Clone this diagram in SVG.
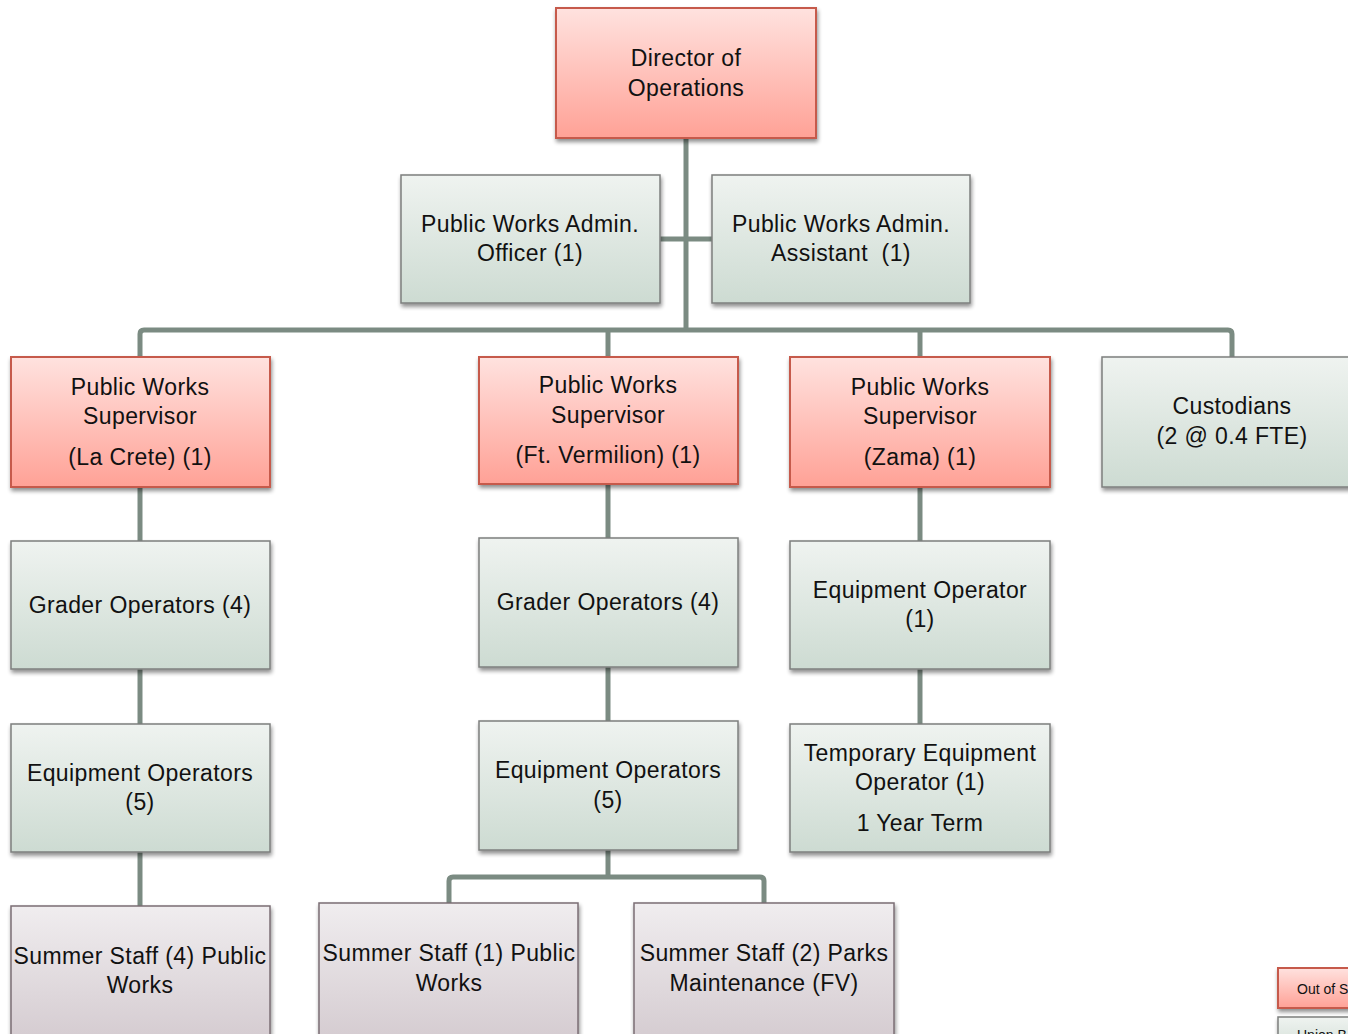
<svg xmlns="http://www.w3.org/2000/svg" width="1348" height="1034" viewBox="0 0 1348 1034">
<defs>
<linearGradient id="gRed" x1="0" y1="0" x2="0" y2="1"><stop offset="0" stop-color="#ffe2df"/><stop offset="1" stop-color="#ffa196"/></linearGradient>
<linearGradient id="gGreen" x1="0" y1="0" x2="0" y2="1"><stop offset="0" stop-color="#eff3f0"/><stop offset="1" stop-color="#cddbd2"/></linearGradient>
<linearGradient id="gMauve" x1="0" y1="0" x2="0" y2="1"><stop offset="0" stop-color="#f0edef"/><stop offset="1" stop-color="#d5ccd1"/></linearGradient>
<filter id="sh" x="-10%" y="-10%" width="125%" height="130%"><feGaussianBlur in="SourceAlpha" stdDeviation="2"/><feOffset dx="1" dy="3"/><feComponentTransfer><feFuncA type="linear" slope="0.45"/></feComponentTransfer><feMerge><feMergeNode/><feMergeNode in="SourceGraphic"/></feMerge></filter>
</defs>
<style>
.red{fill:url(#gRed);stroke:#c65a4c;stroke-width:2;filter:url(#sh)}
.grn{fill:url(#gGreen);stroke:#7d7f7e;stroke-width:1.5;filter:url(#sh)}
.mau{fill:url(#gMauve);stroke:#7b6e74;stroke-width:1.5;filter:url(#sh)}
.t{font-family:"Liberation Sans",Arial,sans-serif;font-size:23px;letter-spacing:0.4px;fill:#111;text-anchor:middle}
.lg{font-family:"Liberation Sans",Arial,sans-serif;font-size:14px;fill:#111}
.c{fill:none;stroke:#7b8b82;stroke-width:5;stroke-linejoin:round}
</style>
<rect width="1348" height="1034" fill="#fff"/>
<g id="connectors">
<path class="c" d="M686 138V330"/>
<path class="c" d="M660 239H712"/>
<path class="c" d="M140 357V334Q140 330 144 330H1228Q1232 330 1232 334V357"/>
<path class="c" d="M608 330V357"/>
<path class="c" d="M920 330V357"/>
<path class="c" d="M140 487V541"/>
<path class="c" d="M140 669V724"/>
<path class="c" d="M140 852V906"/>
<path class="c" d="M608 484V538"/>
<path class="c" d="M608 667V721"/>
<path class="c" d="M608 850V877"/>
<path class="c" d="M449 903V881Q449 877 453 877H760Q764 877 764 881V903"/>
<path class="c" d="M920 487V541"/>
<path class="c" d="M920 669V724"/>
</g>
<g id="director"><rect class="red" x="556" y="8" width="260" height="130"/><text class="t" x="686" y="66">Director of</text><text class="t" x="686" y="96">Operations</text></g>
<g id="admin-officer"><rect class="grn" x="401" y="175" width="259" height="128"/><text class="t" x="530" y="232">Public Works Admin.</text><text class="t" x="530" y="261">Officer (1)</text></g>
<g id="admin-assistant"><rect class="grn" x="712" y="175" width="258" height="128"/><text class="t" x="841" y="232">Public Works Admin.</text><text class="t" x="841" y="261" xml:space="preserve">Assistant  (1)</text></g>
<g id="sup-lacrete"><rect class="red" x="11" y="357" width="259" height="130"/><text class="t" x="140" y="395">Public Works</text><text class="t" x="140" y="424">Supervisor</text><text class="t" x="140" y="465">(La Crete) (1)</text></g>
<g id="sup-fv"><rect class="red" x="479" y="357" width="259" height="127"/><text class="t" x="608" y="393">Public Works</text><text class="t" x="608" y="423">Supervisor</text><text class="t" x="608" y="463">(Ft. Vermilion) (1)</text></g>
<g id="sup-zama"><rect class="red" x="790" y="357" width="260" height="130"/><text class="t" x="920" y="395">Public Works</text><text class="t" x="920" y="424">Supervisor</text><text class="t" x="920" y="465">(Zama) (1)</text></g>
<g id="custodians"><rect class="grn" x="1102" y="357" width="260" height="130"/><text class="t" x="1232" y="414">Custodians</text><text class="t" x="1232" y="444">(2 @ 0.4 FTE)</text></g>
<g id="grader-lacrete"><rect class="grn" x="11" y="541" width="259" height="128"/><text class="t" x="140" y="613">Grader Operators (4)</text></g>
<g id="grader-fv"><rect class="grn" x="479" y="538" width="259" height="129"/><text class="t" x="608" y="610">Grader Operators (4)</text></g>
<g id="equip-zama"><rect class="grn" x="790" y="541" width="260" height="128"/><text class="t" x="920" y="598">Equipment Operator</text><text class="t" x="920" y="627">(1)</text></g>
<g id="equip-lacrete"><rect class="grn" x="11" y="724" width="259" height="128"/><text class="t" x="140" y="781">Equipment Operators</text><text class="t" x="140" y="810">(5)</text></g>
<g id="equip-fv"><rect class="grn" x="479" y="721" width="259" height="129"/><text class="t" x="608" y="778">Equipment Operators</text><text class="t" x="608" y="808">(5)</text></g>
<g id="temp-zama"><rect class="grn" x="790" y="724" width="260" height="128"/><text class="t" x="920" y="761">Temporary Equipment</text><text class="t" x="920" y="790">Operator (1)</text><text class="t" x="920" y="831">1 Year Term</text></g>
<g id="summer-lacrete"><rect class="mau" x="11" y="906" width="259" height="132"/><text class="t" x="140" y="964">Summer Staff (4) Public</text><text class="t" x="140" y="993">Works</text></g>
<g id="summer-fv"><rect class="mau" x="319" y="903" width="259" height="135"/><text class="t" x="449" y="961">Summer Staff (1) Public</text><text class="t" x="449" y="991">Works</text></g>
<g id="summer-parks"><rect class="mau" x="634" y="903" width="260" height="135"/><text class="t" x="764" y="961">Summer Staff (2) Parks</text><text class="t" x="764" y="991">Maintenance (FV)</text></g>
<g id="legend">
<rect class="red" x="1278" y="968" width="90" height="40"/><text class="lg" x="1297" y="994">Out of S</text>
<rect class="grn" x="1278" y="1017" width="90" height="40"/><text class="lg" x="1297" y="1040">Union B</text>
</g>
</svg>
